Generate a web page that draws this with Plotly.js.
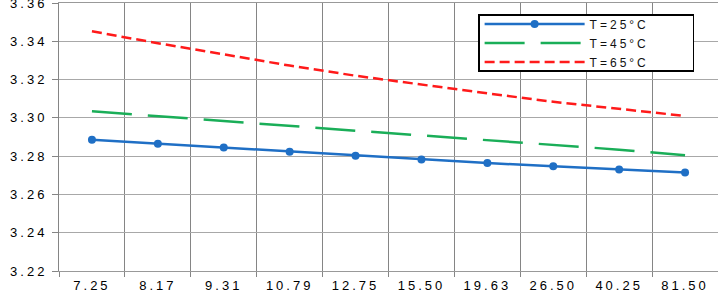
<!DOCTYPE html>
<html>
<head>
<meta charset="utf-8">
<script src="https://cdn.plot.ly/plotly-3.0.1.min.js"></script>
<style>
html,body{margin:0;padding:0;background:#fff;}
#chart{width:718px;height:293px;}
.xtick text,.ytick text{letter-spacing:3px;}
.legendtext{letter-spacing:3px;}
</style>
</head>
<body>
<div id="chart"></div>
<script>
var categories = ["7.25","8.17","9.31","10.79","12.75","15.50","19.63","26.50","40.25","81.50"];
var t25 = [3.2885,3.2865,3.2845,3.2823,3.2802,3.2782,3.2764,3.2747,3.2730,3.2714];
var t45 = [3.3034,3.3008,3.2982,3.2957,3.2933,3.2908,3.2884,3.2860,3.2834,3.2805];
var t65 = [3.3452,3.3390,3.3332,3.3273,3.3220,3.3173,3.3128,3.3084,3.3046,3.3010];
var names = ["T=25°C","T=45°C","T=65°C"];
var yTicks = [3.22,3.24,3.26,3.28,3.30,3.32,3.34,3.36];
var yTickText = ["3.22","3.24","3.26","3.28","3.30","3.32","3.34","3.36"];

var pad = "\u00a0\u00a0\u00a0\u00a0\u00a0\u00a0";
var traces = [
  {x: categories, y: t25, name: names[0] + pad, type: "scatter", mode: "lines+markers",
   line: {color: "#1f6fc5", width: 2.5}, marker: {color: "#1f6fc5", size: 8, symbol: "circle"}},
  {x: categories, y: t45, name: names[1] + pad, type: "scatter", mode: "lines",
   line: {color: "#1aae58", width: 2.5, dash: "40px,16px"}},
  {x: categories, y: t65, name: names[2] + pad, type: "scatter", mode: "lines",
   line: {color: "#ff1a1a", width: 2.5, dash: "10px,5px"}}
];

var tickFont = {family: "Arial, Liberation Sans, sans-serif", size: 13, color: "#000"};

var layout = {
  width: 718, height: 293,
  margin: {l: 59, r: 0, t: 3, b: 22, pad: 0},
  paper_bgcolor: "#fff", plot_bgcolor: "#fff",
  showlegend: true,
  legend: {x: 0.636, y: 0.851, xanchor: "left", yanchor: "middle",
           bordercolor: "#000", borderwidth: 1.5, bgcolor: "#fff",
           font: {family: "Arial, Liberation Sans, sans-serif", size: 12, color: "#111"},
           tracegroupgap: 0, itemwidth: 100},
  xaxis: {type: "category", range: [-0.5, 9.5], tickson: "boundaries",
          showgrid: true, gridcolor: "#858585", gridwidth: 1,
          showline: true, mirror: true, linecolor: "#999999", linewidth: 1,
          ticks: "outside", ticklen: 5, tickcolor: "#858585",
          ticklabelstandoff: 2, ticklabeloverflow: "allow",
          tickfont: tickFont, zeroline: false, fixedrange: true},
  yaxis: {range: [3.22, 3.36], tickmode: "array", tickvals: yTicks, ticktext: yTickText,
          showgrid: true, gridcolor: "#a8a8a8", gridwidth: 1,
          showline: true, linecolor: "#858585", linewidth: 1,
          ticks: "outside", ticklen: 6, tickcolor: "#858585",
          ticklabelstandoff: 2, ticklabeloverflow: "allow",
          tickfont: tickFont, zeroline: false, fixedrange: true}
};

Plotly.newPlot("chart", traces, layout, {staticPlot: true, displayModeBar: false}).then(function (gd) {
  // tighten the legend box vertically to match the reference frame
  var bg = gd.querySelector(".legend rect.bg");
  if (bg) {
    var h = parseFloat(bg.getAttribute("height"));
    var y0 = parseFloat(bg.getAttribute("y") || "0");
    var shrink = Math.max(0, h - 56);
    bg.setAttribute("y", y0 + shrink / 2);
    bg.setAttribute("height", h - shrink);
  }
});
</script>
</body>
</html>
